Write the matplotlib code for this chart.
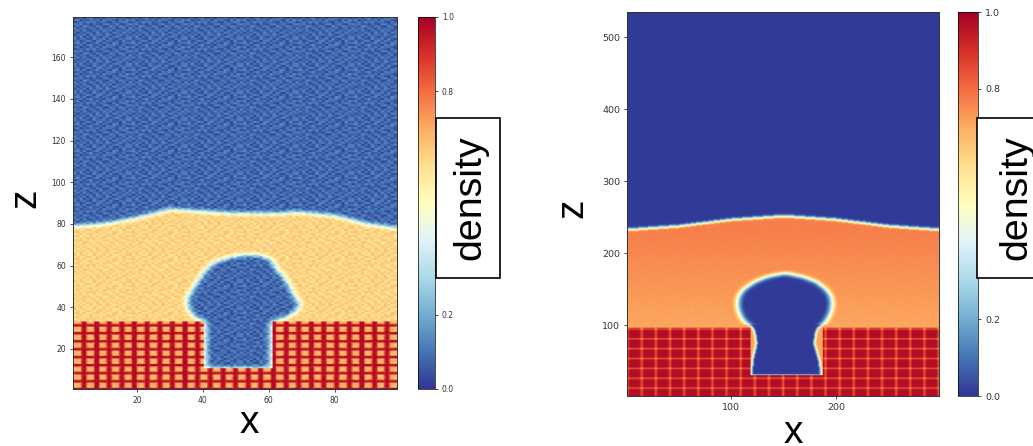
import numpy as np
import matplotlib
matplotlib.use("Agg")
import matplotlib.pyplot as plt
from matplotlib.patches import Rectangle

W, H = 1033, 446
LABEL_FONT = "Liberation Sans"

# ---------- values: left panel ----------
left_iface_x = [1, 10, 20, 30, 40, 50, 60, 70, 80, 90, 99]
left_iface_z = [79, 80, 83, 87, 86, 85, 85, 85.5, 84, 80, 78]
left_cav_z = [10.5, 33, 35, 38, 41, 45, 49, 55, 58, 61, 63, 64, 65]
left_cav_l = [41, 40.5, 37.5, 36, 35, 35.5, 37, 39.5, 41, 43, 46, 49, 52]
left_cav_r = [60.5, 61, 65.5, 68.5, 69.7, 68, 66.7, 64.5, 62.5, 61.5, 60.5, 59, 57]
left_col_lines = [3.6, 7.5, 11.3, 15.2, 19.0, 22.9, 26.8, 30.6, 34.5, 38.3, 42.2,
                  46.1, 49.9, 53.8, 57.6, 61.5, 65.4, 69.2, 73.1, 76.9, 80.8,
                  84.7, 88.5, 92.4, 96.2]
left_row_lines = [0.5, 4.3, 8.2, 12.0, 15.9, 19.7, 23.5, 27.4, 31.2]
left_gas, left_liquid, left_cell, left_line = 0.08, 0.62, 0.68, 0.97
left_xticks = [20, 40, 60, 80]
left_zticks = [20, 40, 60, 80, 100, 120, 140, 160]

# ---------- values: right panel ----------
right_iface_x = [1, 50, 100, 150, 200, 250, 299]
right_iface_z = [233, 238, 247, 252, 247, 238, 233]
right_cav_z = [30, 50, 75, 92, 97, 102, 110, 120, 130, 140, 150, 160, 167, 170, 172]
right_cav_l = [119, 120, 124, 122, 120, 115, 110, 107, 106, 107, 112, 122, 134, 144, 150]
right_cav_r = [186, 184, 179, 181, 183, 188, 192, 195, 196, 195, 190, 181, 168, 158, 152]
right_col_lines = [0.8, 14.3, 27.8, 41.3, 54.8, 68.3, 81.8, 95.3, 108.8, 122.3, 135.8,
                   149.3, 162.8, 176.3, 189.8, 203.3, 216.8, 230.3, 243.8, 257.3,
                   270.8, 284.3, 297.8]
right_row_lines = [12.5, 26.2, 39.9, 53.6, 67.3, 81.0, 94.7]
right_liquid_z = [97, 230]
right_liquid_v = [0.71, 0.77]
right_gas, right_cell, right_line = 0.01, 0.97, 0.12
right_xticks = [100, 200]
right_zticks = [100, 200, 300, 400, 500]

# 0.4 and 0.6 sit behind the "density" box in the reference
cbar_ticks = [0.0, 0.2, 0.8, 1.0]

# small fixed table of grain offsets, tiled over the fields
grain = np.array([
    [ .6, -.3,  .9, -.8,  .2, -.5,  .7, -.1, -.9,  .4,  .1, -.6,  .3,  .8, -.2, -.7,  .5],
    [-.7,  .4, -.2,  .5, -.9,  .8, -.4,  .3,  .6, -.6,  .9,  .2, -.8, -.1,  .7, -.3,  .1],
    [ .3, -.9,  .1, -.4,  .6,  .2, -.7,  .9, -.3, -.1,  .5, -.8,  .7,  .4, -.6,  .8, -.2],
    [-.1,  .8, -.6,  .7, -.3, -.8,  .4,  .1, -.5,  .9, -.2,  .6, -.9,  .3,  .2, -.4,  .7],
    [ .9, -.5,  .3,  .2, -.7,  .6,  .1, -.9,  .8, -.4,  .3, -.1,  .5, -.7, -.3,  .6, -.8],
    [-.4,  .2, -.8,  .9,  .5, -.2, -.6,  .7,  .2, -.7, -.9,  .8,  .1, -.5,  .9,  .3, -.1],
    [ .7,  .1,  .6, -.5, -.1, -.9,  .3, -.4, -.8,  .5,  .7, -.3, -.2,  .9, -.6, -.9,  .4],
    [-.8, -.2,  .4, -.3,  .9,  .1,  .8, -.6,  .4,  .2, -.5, -.9,  .6, -.4,  .1,  .7,  .3],
    [ .2,  .7, -.9,  .1, -.6,  .4, -.2,  .5, -.7,  .8,  .1,  .4, -.3, -.8,  .6, -.5,  .9],
    [-.6, -.1,  .5, -.7,  .3,  .9, -.5, -.3,  .1, -.9,  .6,  .2,  .8, -.2, -.4,  .4, -.7],
    [ .4,  .9, -.3,  .6, -.8, -.4,  .2,  .8, -.6,  .3, -.1, -.7,  .9,  .5, -.9,  .1,  .2],
    [-.3,  .5, -.7, -.2,  .8,  .3, -.9,  .6,  .7, -.5,  .4,  .1, -.6,  .2, -.8,  .9, -.4],
    [ .8, -.6,  .2,  .4, -.5, -.7,  .9, -.2,  .3,  .6, -.8,  .7, -.4, -.9,  .5, -.1,  .6],
])
blur_narrow = np.array([1, 2, 3, 2, 1], float)
blur_wide = np.array([1, 2, 3, 4, 5, 4, 3, 2, 1], float)
blur_bubble = np.array([1, 2, 3, 4, 5, 6, 7, 6, 5, 4, 3, 2, 1], float)


def blur(a, kern, axis):
    kern = kern / kern.sum()
    n = len(kern) // 2
    pad = [(0, 0), (0, 0)]
    pad[axis] = (n, n)
    b = np.pad(a, pad, mode="edge")
    return np.apply_along_axis(lambda v: np.convolve(v, kern, mode="valid"), axis, b)


def nearest(values, lines):
    return np.abs(values[:, None] - np.array(lines)[None, :]).min(axis=1)


def top_mask(X, Z, ix, iz):
    return (Z > np.interp(X, ix, iz)).astype(float)


def cav_mask(X, Z, cz, cl, cr):
    l = np.interp(Z, cz, cl)
    r = np.interp(Z, cz, cr)
    return ((Z > cz[0]) & (Z < cz[-1]) & (X > l) & (X < r)).astype(float)


def tiled(shape, step):
    rows = np.arange(shape[0]) // step % grain.shape[0]
    cols = np.arange(shape[1]) // step % grain.shape[1]
    return grain[np.ix_(rows, cols)]


# ---------- left field ----------
lx = np.arange(0.5, 99.5, 0.5)
lz = np.arange(0.8, 179.6, 0.5)
LX, LZ = np.meshgrid(lx, lz)
m = np.maximum(top_mask(LX, LZ, left_iface_x, left_iface_z),
               cav_mask(LX, LZ, left_cav_z, left_cav_l, left_cav_r))
m = blur(blur(m, blur_wide, 0), blur_wide, 1)
g = tiled(LX.shape, 2)
gas_v = left_gas + 0.06 * g
liq_v = left_liquid + 0.05 * g
left_field = liq_v * (1 - m) + gas_v * m
col_dark = np.interp(nearest(lx, left_col_lines), [0.5, 1.1], [1, 0])
row_dark = np.interp(nearest(lz, left_row_lines), [0.35, 0.9], [1, 0])
dark = np.maximum(col_dark[None, :], row_dark[:, None])
sub = left_cell + (left_line - left_cell) * dark + 0.02 * g
solid = (LZ < 33) & ~((LX > 40) & (LX < 61.5) & (LZ > 10.5))
left_field = np.where(solid, sub, left_field)

# ---------- right field ----------
rx = np.arange(0.7, 298.6, 1.0)
rz = np.arange(2.0, 536.0, 1.0)
RX, RZ = np.meshgrid(rx, rz)
mt = blur(top_mask(RX, RZ, right_iface_x, right_iface_z), blur_wide, 0)
mc = cav_mask(RX, RZ, right_cav_z, right_cav_l, right_cav_r)
mc_wide = blur(blur(mc, blur_bubble, 0), blur_bubble, 1)
mc_narrow = blur(blur(mc, blur_narrow, 0), blur_narrow, 1)
mc = np.where(RZ > 100, mc_wide, mc_narrow)
m = np.maximum(mt, mc)
g = tiled(RX.shape, 2)
liq_v = np.interp(RZ, right_liquid_z, right_liquid_v) + 0.006 * g
right_field = liq_v * (1 - m) + right_gas * m
col_b = np.interp(nearest(rx, right_col_lines), [0.3, 2.0], [1, 0])
row_b = np.interp(nearest(rz, right_row_lines), [0.3, 2.0], [1, 0])
sub = right_cell - right_line * col_b[None, :] - right_line * row_b[:, None]
solid = (RZ < 97) & ~((RX > 118) & (RX < 187) & (RZ > 30))
right_field = np.where(solid, sub, right_field)


# ---------- drawing ----------
def box(x0, y0, x1, y1):
    return [x0 / W, 1 - y1 / H, (x1 - x0) / W, (y1 - y0) / H]


fig = plt.figure(figsize=(W / 100, H / 100), dpi=100)


def panel(field, xs, zs, ax_box, cax_box, xticks, zticks, size):
    ax = fig.add_axes(box(*ax_box))
    im = ax.imshow(field, origin="lower", aspect="auto", cmap="RdYlBu_r", vmin=0, vmax=1,
                   extent=[xs[0], xs[-1], zs[0], zs[-1]], interpolation="bilinear")
    ax.set_xticks(xticks)
    ax.set_yticks(zticks)
    ax.tick_params(labelsize=size, length=2.5, width=0.6, pad=2.5, colors="#333333")
    for s in ax.spines.values():
        s.set_linewidth(0.7)
        s.set_color("#333333")
    cax = fig.add_axes(box(*cax_box))
    cb = fig.colorbar(im, cax=cax, ticks=cbar_ticks)
    cb.ax.tick_params(labelsize=size, length=2.5, width=0.6, pad=2.5, colors="#333333")
    cb.outline.set_linewidth(0.5)
    return ax


panel(left_field, lx, lz, (73, 17, 397, 389), (418, 17, 435, 389), left_xticks, left_zticks, 5.5)
panel(right_field, rx, rz, (627, 12, 939, 396), (958, 12, 978, 396), right_xticks, right_zticks, 6.8)

for x0, x1, cx in [(436, 500, 470), (977, 1040, 1016)]:
    fig.add_artist(Rectangle((x0 / W, 1 - 278 / H), (x1 - x0) / W, 160 / H,
                             transform=fig.transFigure, facecolor="white",
                             edgecolor="black", linewidth=1.2, zorder=5))
    fig.text(cx / W, 1 - 198 / H, "density", rotation=90, ha="center", va="center",
             fontsize=28.4, family=LABEL_FONT, color="black", zorder=6)

for px, py in [(249, 433), (793, 443)]:
    fig.text(px / W, 1 - py / H, "x", ha="center", va="baseline",
             fontsize=28, family=LABEL_FONT, color="black", zorder=6)
for px, py in [(25, 198), (572, 208)]:
    fig.text(px / W, 1 - py / H, "z", ha="center", va="center", rotation=90,
             fontsize=28, family=LABEL_FONT, color="black", zorder=6)

fig.savefig("out.png", dpi=100)
